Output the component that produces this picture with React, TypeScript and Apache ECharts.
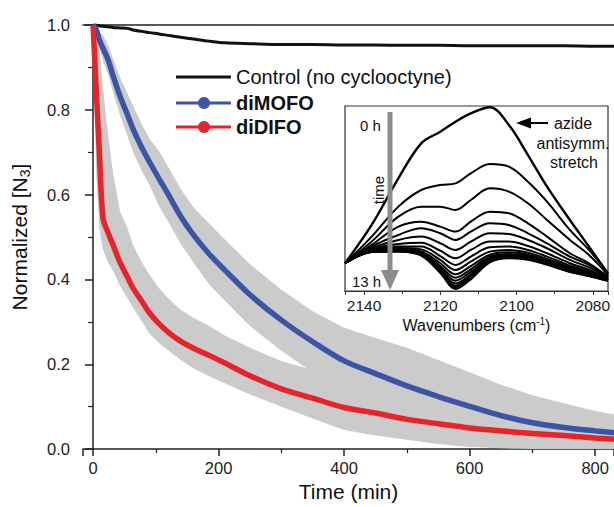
import React, { useEffect, useRef } from "react";
import * as echarts from "echarts";

// ---- main kinetics data (time in min, normalized [N3]) ----
const TIME = [0, 5, 10, 16, 24, 32, 43, 55, 64, 78, 90, 105, 122, 140, 160, 185, 210, 250, 300, 350, 400, 450, 500, 550, 600, 650, 700, 750, 800, 835];
const CONTROL = [1.0, 1.0, 0.998, 0.997, 0.996, 0.994, 0.993, 0.992, 0.988, 0.985, 0.982, 0.979, 0.975, 0.971, 0.967, 0.962, 0.958, 0.956, 0.954, 0.954, 0.953, 0.953, 0.952, 0.952, 0.951, 0.951, 0.951, 0.951, 0.95, 0.95];
const DIMOFO = [1.0, 0.99, 0.965, 0.945, 0.918, 0.88, 0.832, 0.788, 0.754, 0.71, 0.677, 0.638, 0.595, 0.548, 0.505, 0.46, 0.422, 0.364, 0.304, 0.253, 0.208, 0.178, 0.149, 0.124, 0.101, 0.079, 0.062, 0.051, 0.043, 0.038];
const DIMOFO_UPPER = [1.0, 1.0, 0.985, 0.975, 0.953, 0.92, 0.877, 0.838, 0.809, 0.765, 0.732, 0.703, 0.66, 0.613, 0.57, 0.532, 0.494, 0.436, 0.376, 0.325, 0.286, 0.262, 0.239, 0.21, 0.181, 0.152, 0.127, 0.108, 0.09, 0.08];
const DIMOFO_LOWER = [1.0, 0.98, 0.945, 0.915, 0.883, 0.84, 0.787, 0.738, 0.699, 0.655, 0.622, 0.573, 0.53, 0.483, 0.44, 0.388, 0.35, 0.29, 0.232, 0.18, 0.135, 0.108, 0.083, 0.063, 0.045, 0.03, 0.014, 0.006, 0.002, 0.0];
const DIDIFO = [1.0, 0.85, 0.7, 0.543, 0.51, 0.481, 0.44, 0.405, 0.379, 0.348, 0.321, 0.296, 0.273, 0.254, 0.238, 0.221, 0.203, 0.173, 0.142, 0.12, 0.098, 0.085, 0.07, 0.06, 0.05, 0.043, 0.037, 0.032, 0.026, 0.023];
const DIDIFO_UPPER = [1.0, 1.0, 0.95, 0.85, 0.74, 0.65, 0.56, 0.52, 0.48, 0.44, 0.411, 0.38, 0.352, 0.328, 0.31, 0.29, 0.268, 0.239, 0.208, 0.186, 0.165, 0.145, 0.125, 0.105, 0.088, 0.075, 0.063, 0.055, 0.047, 0.044];
const DIDIFO_LOWER = [1.0, 0.65, 0.52, 0.47, 0.44, 0.42, 0.385, 0.355, 0.333, 0.3, 0.272, 0.25, 0.23, 0.21, 0.19, 0.172, 0.155, 0.129, 0.1, 0.072, 0.045, 0.032, 0.022, 0.012, 0.005, 0.002, 0, 0, 0, 0];

const Y_TICKS = [0, 0.2, 0.4, 0.6, 0.8, 1.0];

// ---- inset IR spectra (wavenumber cm-1, absorbance a.u.) ----
const WAVENUMBERS = [2145, 2138, 2131, 2125, 2120, 2116, 2112, 2107, 2102, 2097, 2092, 2086, 2081, 2076];
const SPECTRA = [
  [15, 35.7, 60.9, 79.8, 86.1, 91.5, 96, 99.3, 89.7, 73.5, 56.4, 38.4, 24, 9.5],
  [15, 29.4, 45.6, 54.6, 57.3, 58.2, 63.6, 68.6, 67.2, 59.1, 48.3, 33, 22.2, 9.5],
  [15, 26.7, 40.2, 45.6, 45.6, 43.8, 49.2, 55.5, 53.7, 47.4, 38.4, 27.6, 19.5, 8.6],
  [15, 24.9, 34.8, 37.5, 34.8, 32.1, 37.5, 42.9, 42, 36.6, 29.4, 20.4, 15, 7.7],
  [15, 24, 30.3, 33.9, 31.2, 27.6, 32.1, 36.6, 35.7, 31.2, 25.8, 18.6, 14.1, 7.7],
  [15, 23.1, 27.6, 29.4, 25.8, 22.2, 26.7, 31.2, 30.8, 27.6, 23.1, 16.8, 12.8, 7.4],
  [15, 22.5, 25.4, 26.1, 21.8, 17.7, 22.2, 26.7, 26.7, 24.3, 20.4, 15, 11.4, 6.8],
  [15, 22.2, 24, 24, 18.9, 14.1, 18.6, 23.6, 24, 22.2, 18.6, 13.7, 10.5, 6.5],
  [15, 22, 23.2, 22.5, 16.8, 11.4, 15.9, 21.3, 22.2, 20.7, 17.3, 12.8, 9.9, 6.3],
  [15, 21.8, 22.7, 21.4, 15, 9, 13.5, 19.6, 20.9, 19.6, 16.4, 12.1, 9.4, 6.1],
  [15, 21.6, 22.3, 20.7, 13.5, 7.2, 11.7, 18.6, 20, 18.9, 15.9, 11.5, 9, 5.9],
  [15, 21.4, 22, 20.2, 12.4, 5.6, 10.3, 17.7, 19.3, 18.4, 15.3, 11.2, 8.6, 5.8],
  [15, 21.3, 21.8, 19.8, 11.5, 4.1, 9, 16.9, 18.7, 17.8, 15, 10.8, 8.5, 5.8],
  [15, 21.3, 21.6, 19.5, 10.8, 2.9, 7.9, 16.4, 18.4, 17.5, 14.6, 10.6, 8.3, 5.6],
  [15, 21.1, 21.4, 19.3, 10.3, 2, 7, 15.9, 18, 17.1, 14.4, 10.5, 8.1, 5.6],
  [15, 21.1, 21.3, 19.1, 9.7, 1.1, 6.3, 15.5, 17.7, 16.9, 14.2, 10.3, 8.1, 5.4],
];

const SERIES_NAMES = ["Control (no cyclooctyne)", "diMOFO", "diDIFO"];
const COLORS = { control: "#111111", blue: "#3b55a6", red: "#e8242a", band: "#cbcbcb", axis: "#222222" };
const FONT = "Liberation Sans, Arial, Helvetica, sans-serif";

function pairs(xs: number[], ys: number[]) {
  return xs.map((x, i) => [x, ys[i]]);
}

function bandSeries(name: string, lower: number[], upper: number[]) {
  return {
    name,
    type: "custom",
    xAxisIndex: 0,
    yAxisIndex: 0,
    data: TIME.map((t, i) => [t, lower[i], upper[i]]),
    renderItem: (params: any, api: any) => {
      if (params.dataIndex !== 0) return null;
      const pts: number[][] = [];
      for (let i = 0; i < TIME.length; i++) pts.push(api.coord([TIME[i], upper[i]]));
      for (let i = TIME.length - 1; i >= 0; i--) pts.push(api.coord([TIME[i], lower[i]]));
      return {
        type: "polygon",
        shape: { points: pts },
        style: { fill: COLORS.band, stroke: "none" },
      };
    },
    z: 1,
    silent: true,
  };
}

export default function App() {
  const ref = useRef<HTMLDivElement>(null);

  useEffect(() => {
    if (!ref.current) return;
    const chart = echarts.init(ref.current, undefined, { renderer: "svg" });

    const inset = SPECTRA.map((s, i) => ({
      name: "spectrum_" + i,
      type: "line",
      xAxisIndex: 2,
      yAxisIndex: 1,
      data: pairs(WAVENUMBERS, s),
      symbol: "none",
      smooth: 0.35,
      lineStyle: { color: "#000", width: i === 0 ? 2.4 : 2 },
      z: 5,
      silent: true,
    }));

    const legendRows = [
      { name: SERIES_NAMES[0], color: COLORS.control, y: 77, bold: false, dot: false },
      { name: SERIES_NAMES[1], color: COLORS.blue, y: 103, bold: true, dot: true },
      { name: SERIES_NAMES[2], color: COLORS.red, y: 127, bold: true, dot: true },
    ];
    const legendGraphics: any[] = [];
    legendRows.forEach((r) => {
      legendGraphics.push({
        type: "line", z: 100,
        shape: { x1: 176, y1: r.y, x2: 231, y2: r.y },
        style: { stroke: r.color, lineWidth: 3 },
      });
      if (r.dot) {
        legendGraphics.push({
          type: "circle", z: 100,
          shape: { cx: 204, cy: r.y, r: 6 },
          style: { fill: r.color },
        });
      }
      legendGraphics.push({
        type: "text", x: 236, y: r.y, z: 100,
        style: {
          text: r.name, fontSize: 20, fontWeight: r.bold ? "bold" : "normal",
          fill: "#111", fontFamily: FONT, verticalAlign: "middle", align: "left",
        },
      });
    });

    const option: any = {
      animation: false,
      textStyle: { fontFamily: FONT },
      grid: [
        { left: 83, top: 25, right: 0, bottom: 55 },
        {
          left: 345, top: 106, width: 263, height: 185,
          show: true, backgroundColor: "#ffffff", borderColor: "#333", borderWidth: 1.2, z: 4,
        },
      ],
      xAxis: [
        {
          type: "value",
          gridIndex: 0,
          min: -16,
          max: 830,
          axisLine: { show: true, lineStyle: { color: COLORS.axis, width: 1.5 } },
          axisTick: { show: true, length: 7, lineStyle: { color: COLORS.axis, width: 1.5 } },
          minorTick: { show: true, splitNumber: 2, length: 4, lineStyle: { color: COLORS.axis, width: 1.2 } },
          splitLine: { show: false },
          axisLabel: {
            fontSize: 16.5, color: "#222", margin: 10, showMinLabel: false, showMaxLabel: false,
            formatter: (v: number) => String(v),
          },
          name: "Time (min)",
          nameLocation: "middle",
          nameGap: 26,
          nameTextStyle: { fontSize: 21, color: "#111" },
        },
        {
          type: "value",
          gridIndex: 0,
          position: "top",
          min: -16,
          max: 830,
          axisLine: { show: true, lineStyle: { color: COLORS.axis, width: 1.5 } },
          axisTick: { show: false },
          axisLabel: { show: false },
          splitLine: { show: false },
        },
        {
          type: "value",
          gridIndex: 1,
          inverse: true,
          min: 2076,
          max: 2145,
          splitNumber: 3,
          axisLine: { show: true, lineStyle: { color: "#333", width: 1.2 } },
          axisTick: { show: true, length: 4, lineStyle: { color: "#333" } },
          minorTick: { show: true, splitNumber: 2, length: 3, lineStyle: { color: "#333" } },
          splitLine: { show: false },
          axisLabel: {
            fontSize: 15.5, color: "#222", margin: 6, showMinLabel: false, showMaxLabel: false,
            formatter: (v: number) => String(Math.round(v)),
          },
          name: "Wavenumbers (cm{sup|-1})",
          nameLocation: "middle",
          nameGap: 25,
          nameTextStyle: {
            fontSize: 16, color: "#111",
            rich: { sup: { fontSize: 10, verticalAlign: "top", padding: [0, 0, 8, 0], color: "#111" } },
          },
        },
      ],
      yAxis: [
        {
          type: "value",
          gridIndex: 0,
          min: 0,
          max: 1,
          interval: 0.2,
          axisLine: { show: true, lineStyle: { color: COLORS.axis, width: 1.5 } },
          axisTick: { show: true, length: 8, lineStyle: { color: COLORS.axis, width: 1.5 } },
          minorTick: { show: true, splitNumber: 2, length: 5, lineStyle: { color: COLORS.axis, width: 1.2 } },
          splitLine: { show: false },
          axisLabel: {
            fontSize: 16.5, color: "#222", margin: 13,
            formatter: (v: number) => (Y_TICKS.includes(Math.round(v * 10) / 10) ? v.toFixed(1) : ""),
          },
          name: "Normalized [N{sub|3}]",
          nameLocation: "middle",
          nameGap: 51,
          nameRotate: 90,
          nameTextStyle: {
            fontSize: 21, color: "#111",
            rich: { sub: { fontSize: 14, verticalAlign: "bottom", padding: [12, 0, 0, 0], color: "#111" } },
          },
        },
        {
          type: "value",
          gridIndex: 1,
          min: 0,
          max: 100,
          axisLine: { show: false },
          axisTick: { show: false },
          axisLabel: { show: false },
          splitLine: { show: false },
        },
      ],
      series: [
        bandSeries("diMOFO range", DIMOFO_LOWER, DIMOFO_UPPER),
        bandSeries("diDIFO range", DIDIFO_LOWER, DIDIFO_UPPER),
        {
          name: SERIES_NAMES[0],
          type: "line",
          data: pairs(TIME, CONTROL),
          symbol: "none",
          smooth: 0.3,
          lineStyle: { color: COLORS.control, width: 3 },
          itemStyle: { color: COLORS.control },
          z: 3,
        },
        {
          name: SERIES_NAMES[1],
          type: "line",
          data: pairs(TIME, DIMOFO),
          symbol: "none",
          smooth: 0.3,
          lineStyle: { color: COLORS.blue, width: 5.5 },
          itemStyle: { color: COLORS.blue },
          z: 3,
        },
        {
          name: SERIES_NAMES[2],
          type: "line",
          data: pairs(TIME, DIDIFO),
          symbol: "none",
          smooth: 0.3,
          lineStyle: { color: COLORS.red, width: 5.5 },
          itemStyle: { color: COLORS.red },
          z: 3,
        },
        ...inset,
      ],
      graphic: [
        ...legendGraphics,
        { type: "text", left: 360, top: 118, z: 100, style: { text: "0 h", fontSize: 15, fill: "#111", fontFamily: FONT } },
        { type: "text", left: 352, top: 274, z: 100, style: { text: "13 h", fontSize: 15, fill: "#111", fontFamily: FONT } },
        {
          type: "text", x: 378, y: 190, rotation: Math.PI / 2, z: 100,
          style: { text: "time", fontSize: 15, fill: "#111", fontFamily: FONT, align: "center", verticalAlign: "middle" },
        },
        { type: "rect", z: 100, shape: { x: 387.5, y: 112, width: 5, height: 160 }, style: { fill: "#8c8c8c" } },
        { type: "polygon", z: 100, shape: { points: [[381, 270], [399, 270], [390, 290]] }, style: { fill: "#8c8c8c" } },
        { type: "line", z: 100, shape: { x1: 528, y1: 123, x2: 548, y2: 123 }, style: { stroke: "#000", lineWidth: 2 } },
        { type: "polygon", z: 100, shape: { points: [[516, 123], [531, 117.5], [531, 128.5]] }, style: { fill: "#000" } },
        {
          type: "text", x: 573, y: 123, z: 100,
          style: { text: "azide", fontSize: 16, fill: "#111", fontFamily: FONT, align: "center", verticalAlign: "middle" },
        },
        {
          type: "text", x: 573, y: 143, z: 100,
          style: { text: "antisymm.", fontSize: 16, fill: "#111", fontFamily: FONT, align: "center", verticalAlign: "middle" },
        },
        {
          type: "text", x: 574, y: 162, z: 100,
          style: { text: "stretch", fontSize: 16, fill: "#111", fontFamily: FONT, align: "center", verticalAlign: "middle" },
        },
      ],
    };

    chart.setOption(option);
    return () => chart.dispose();
  }, []);

  return (
    <div
      ref={ref}
      style={{ position: "fixed", left: 0, top: 0, width: 614, height: 507, background: "#fff" }}
    />
  );
}
